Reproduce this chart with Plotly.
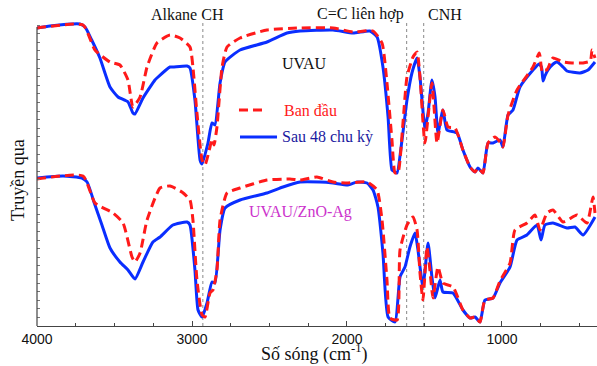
import plotly.graph_objects as go

# ---- data (wavenumber cm-1, transmittance a.u.) ----
uvau_after_wn = [4000, 3916, 3723, 3690, 3647, 3594, 3529, 3477, 3413, 3381, 3368, 3316, 3239, 3226, 3142, 3123,
                 3032, 3013, 2981, 2948, 2935, 2897, 2871, 2852, 2819, 2787, 2690, 2516, 2387, 2303, 2090, 1961,
                 1852, 1806, 1768, 1735, 1710, 1690, 1677, 1645, 1613, 1581, 1548, 1529, 1497, 1477, 1452, 1432,
                 1413, 1381, 1355, 1290, 1252, 1206, 1174, 1155, 1123, 1090, 1058, 1013, 994, 961, 929, 884, 800,
                 762, 745, 735, 723, 703, 670, 645, 606, 581, 497, 445, 400]
uvau_after_t = [298, 300, 302, 299, 286, 268, 239, 229, 224, 213, 212, 228, 246, 248, 259, 259,
                260, 258, 226, 166, 162, 183, 203, 201, 243, 264, 276, 284, 293, 295, 296, 293,
                295, 289, 259, 209, 156, 154, 153, 186, 226, 253, 268, 249, 198, 213, 246, 229,
                193, 216, 196, 193, 176, 159, 154, 158, 153, 183, 183, 186, 179, 211, 216, 239, 256,
                262, 259, 245, 250, 256, 262, 264, 259, 255, 253, 256, 264]

uvau_init_wn = [4000, 3703, 3626, 3529, 3465, 3413, 3381, 3335, 3290, 3226, 3142, 3077, 3013, 2994, 2968, 2935,
                2916, 2884, 2871, 2858, 2839, 2806, 2774, 2690, 2516, 2303, 2090, 1961, 1832, 1774, 1742, 1710,
                1690, 1671, 1639, 1613, 1574, 1548, 1529, 1497, 1452, 1419, 1381, 1348, 1303, 1252, 1206, 1174,
                1155, 1123, 1090, 1045, 1013, 994, 961, 903, 800, 760, 755, 740, 723, 710, 671, 606, 548, 477,
                430, 419, 400]
uvau_init_t = [298, 301, 276, 264, 261, 246, 219, 229, 259, 283, 291, 288, 279, 259, 213, 166,
               161, 179, 187, 181, 199, 259, 279, 288, 296, 298, 298, 294, 295, 283, 243, 186,
               153, 153, 203, 249, 269, 274, 249, 183, 243, 183, 216, 199, 198, 176, 159, 154,
               158, 153, 183, 189, 184, 179, 211, 236, 259, 273, 270, 254, 256, 256, 268, 264, 263, 263,
               265, 276, 268]

zno_after_wn = [4000, 3832, 3710, 3677, 3626, 3581, 3529, 3465, 3413, 3368, 3316, 3252, 3206, 3123, 3032, 3013,
                2981, 2961, 2935, 2903, 2871, 2852, 2819, 2787, 2690, 2516, 2413, 2303, 2174, 2090, 1994, 1935,
                1871, 1832, 1800, 1768, 1735, 1690, 1658, 1626, 1594, 1561, 1542, 1510, 1477, 1452, 1432, 1400,
                1381, 1316, 1252, 1206, 1174, 1142, 1110, 1058, 1013, 948, 903, 839, 774, 748, 723, 671, 581,
                529, 477, 400]
zno_after_t = [148, 150, 148, 144, 121, 101, 78, 64, 56, 47, 64, 84, 89, 101, 104, 101,
               56, 16, 9, 23, 44, 43, 96, 118, 126, 133, 139, 144, 144, 143, 141, 144,
               143, 136, 119, 73, 9, 4, 49, 59, 79, 93, 76, 39, 83, 49, 28, 46,
               34, 33, 16, 8, 9, 4, 26, 28, 43, 59, 86, 91, 101, 86, 101, 103, 98,
               99, 91, 109]

zno_init_wn = [4000, 3703, 3626, 3510, 3445, 3387, 3368, 3335, 3290, 3206, 3142, 3065, 3013, 2994, 2968, 2935,
               2916, 2884, 2865, 2839, 2819, 2774, 2690, 2516, 2368, 2303, 2194, 2090, 1994, 1871, 1806, 1774,
               1742, 1723, 1677, 1658, 1613, 1574, 1548, 1529, 1510, 1484, 1465, 1445, 1413, 1381, 1316, 1252,
               1206, 1174, 1142, 1110, 1058, 1013, 948, 916, 839, 787, 755, 710, 671, 606, 516, 452, 413, 400]
zno_init_t = [147, 150, 123, 113, 103, 69, 64, 73, 106, 138, 140, 134, 126, 106, 46, 11,
              9, 33, 36, 56, 106, 133, 138, 146, 147, 146, 149, 144, 143, 144, 136, 106,
              46, 8, 6, 76, 101, 109, 96, 53, 26, 79, 56, 28, 59, 43, 39, 16,
              8, 9, 4, 26, 28, 45, 63, 96, 103, 111, 96, 113, 116, 104, 111, 103, 129, 113]

band_wn = [2930, 1615, 1505]
band_labels = ["Alkane CH", "C=C liên hợp", "CNH"]
band_label_wn = [3032, 1916, 1368]

x_ticks = [4000, 3000, 2000, 1000]
x_range = [4000, 387]
y_range = [0, 304]

RED = "#ff1a1a"
BLUE = "#0a2eff"
AXIS = "#444444"
SERIF = "Liberation Serif, Times New Roman, serif"
SANS = "Liberation Sans, Arial, sans-serif"

fig = go.Figure()
for wn, t in [(uvau_after_wn, uvau_after_t), (zno_after_wn, zno_after_t)]:
    fig.add_trace(go.Scatter(x=wn, y=t, mode="lines", showlegend=False, hoverinfo="skip",
                             line=dict(color=BLUE, width=3, shape="spline", smoothing=0.5)))
for wn, t in [(uvau_init_wn, uvau_init_t), (zno_init_wn, zno_init_t)]:
    fig.add_trace(go.Scatter(x=wn, y=t, mode="lines", showlegend=False, hoverinfo="skip",
                             line=dict(color=RED, width=3, dash="9px,5px", shape="spline", smoothing=0.5)))

shapes = []
for w in band_wn:
    shapes.append(dict(type="line", xref="x", yref="y", x0=w, x1=w, y0=0, y1=304,
                       line=dict(color="#888888", width=1, dash="dot"), layer="below"))
# left axis line (stops below the plot top)
shapes.append(dict(type="line", xref="paper", yref="y", x0=0, x1=0, y0=0, y1=299,
                   line=dict(color=AXIS, width=1.2)))
# legend keys
shapes.append(dict(type="line", xref="paper", yref="paper", x0=0.3607, x1=0.4107, y0=0.7105, y1=0.7105,
                   line=dict(color=RED, width=3, dash="9px,5px")))
shapes.append(dict(type="line", xref="paper", yref="paper", x0=0.3625, x1=0.4286, y0=0.6217, y1=0.6217,
                   line=dict(color=BLUE, width=3)))

annotations = []
for lw, lab in zip(band_label_wn, band_labels):
    annotations.append(dict(x=lw, y=1.026, xref="x", yref="paper", text=lab, showarrow=False,
                            font=dict(family=SERIF, size=16, color="#111111"), xanchor="center", yanchor="middle"))
annotations += [
    dict(x=2271, y=263, xref="x", yref="y", text="UVAU", showarrow=False,
         font=dict(family=SERIF, size=16, color="#111111")),
    dict(x=2303, y=114, xref="x", yref="y", text="UVAU/ZnO-Ag", showarrow=False,
         font=dict(family=SERIF, size=16, color="#cc33cc")),
    dict(x=0.4375, y=0.7105, xref="paper", yref="paper", text="Ban đầu", showarrow=False,
         xanchor="left", yanchor="middle", font=dict(family=SERIF, size=16, color=RED)),
    dict(x=0.4339, y=0.6217, xref="paper", yref="paper", text="Sau 48 chu kỳ", showarrow=False,
         xanchor="left", yanchor="middle", font=dict(family=SERIF, size=16, color="#1a1aa0")),
    dict(x=0.496, y=-0.09, xref="paper", yref="paper", text="Số sóng (cm<sup>-1</sup>)", showarrow=False,
         xanchor="center", yanchor="middle", font=dict(family=SERIF, size=18, color="#111111")),
    dict(x=-0.034, y=0.48, xref="paper", yref="paper", text="Truyền qua", showarrow=False, textangle=-90,
         xanchor="center", yanchor="middle", font=dict(family=SERIF, size=18, color="#111111")),
]

fig.update_layout(
    width=597, height=366,
    margin=dict(l=37, r=0, t=22, b=40, autoexpand=False),
    paper_bgcolor="white", plot_bgcolor="white",
    shapes=shapes, annotations=annotations, showlegend=False, hovermode=False,
    xaxis=dict(range=x_range, tickvals=x_ticks, ticktext=[str(v) for v in x_ticks],
               showline=True, linecolor=AXIS, linewidth=1.2, mirror=False,
               ticks="inside", ticklen=5, tickcolor=AXIS, showgrid=False, zeroline=False,
               tickfont=dict(family=SANS, size=14, color="#111111"),
               minor=dict(dtick=250, tick0=0, ticks="inside", ticklen=3, tickcolor=AXIS, showgrid=False)),
    yaxis=dict(range=y_range, showline=False, showticklabels=False, showgrid=False, zeroline=False,
               ticks="inside", ticklen=3, tickcolor="#777777", dtick=8.6, tick0=0),
)
# remove the default 8px page margin so the 597x366 figure fills the window exactly
fig.write_html("out.html", config={"displayModeBar": False, "staticPlot": True},
               post_script="document.body.style.margin='0px';document.body.style.overflow='hidden';")
